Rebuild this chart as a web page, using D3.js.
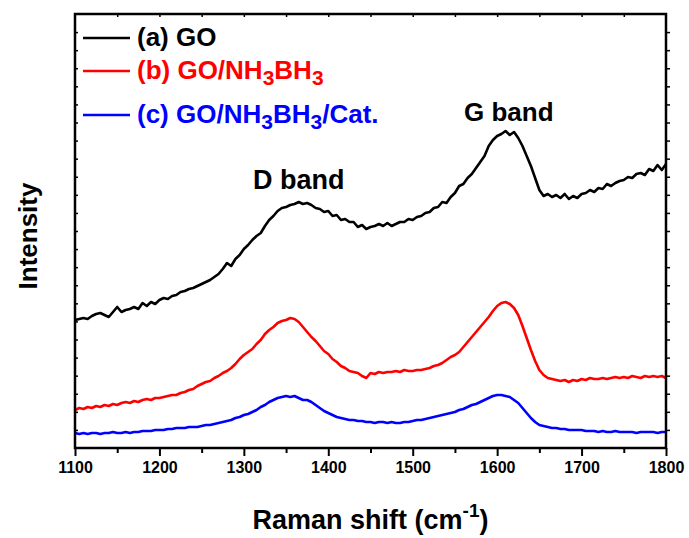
<!DOCTYPE html>
<html>
<head>
<meta charset="utf-8">
<script src="https://cdn.jsdelivr.net/npm/d3@7"></script>
<style>
  body { margin: 0; background: #fff; }
  text { font-family: "Liberation Sans", Arial, sans-serif; font-weight: bold; }
</style>
</head>
<body>
<div id="container"></div>
<script>
// spectres Raman, lus à la main sur la figure (pas de 5 cm-1)
const shift_min = 1100;
const shift_max = 1800;
const shift_step = 5;

const go = [
    128, 129, 130, 129, 132, 134, 135, 133, 131, 136, 141, 136, 138, 139, 141, 139, 145, 142, 146, 144,
    148, 150, 149, 152, 153, 156, 157, 159, 160, 162, 164, 166, 168, 171, 174, 179, 185, 182, 189, 193,
    199, 203, 208, 212, 215, 222, 228, 232, 237, 240, 241, 243, 244, 246, 244, 245, 243, 240, 239, 236,
    237, 232, 233, 228, 229, 226, 226, 221, 223, 219, 221, 222, 224, 222, 225, 222, 224, 226, 226, 229,
    228, 231, 232, 235, 236, 240, 241, 246, 245, 251, 255, 262, 264, 270, 274, 280, 286, 292, 302, 308,
    312, 314, 317, 313, 316, 310, 302, 292, 282, 270, 258, 252, 254, 251, 253, 250, 254, 249, 252, 250,
    254, 255, 258, 256, 260, 259, 264, 262, 265, 267, 268, 271, 270, 274, 275, 273, 279, 277, 283, 278,
    284
];

const go_nh3bh3 = [
    38, 40, 39, 41, 40, 42, 41, 43, 42, 44, 43, 45, 46, 45, 47, 46, 48, 49, 48, 50,
    50, 51, 52, 53, 53, 55, 56, 58, 59, 62, 64, 66, 67, 70, 72, 75, 77, 80, 84, 89,
    93, 96, 99, 104, 108, 114, 118, 121, 125, 127, 128, 130, 129, 126, 121, 116, 111, 107, 102, 97,
    94, 89, 86, 82, 80, 77, 76, 75, 72, 70, 75, 74, 76, 75, 76, 76, 77, 76, 78, 77,
    77, 78, 78, 79, 80, 82, 83, 85, 88, 91, 93, 96, 101, 106, 111, 116, 121, 126, 131, 137,
    142, 145, 146, 144, 140, 133, 122, 110, 98, 87, 78, 73, 70, 69, 68, 67, 68, 66, 68, 67,
    69, 68, 70, 69, 69, 70, 69, 70, 71, 70, 71, 70, 72, 71, 70, 72, 71, 72, 71, 72,
    70
];

const go_nh3bh3_cat = [
    15, 14, 15, 14, 15, 15, 14, 15, 15, 16, 15, 15, 16, 15, 16, 16, 17, 17, 17, 18,
    18, 18, 19, 19, 20, 20, 20, 21, 21, 21, 22, 23, 23, 24, 25, 26, 27, 28, 30, 31,
    33, 34, 36, 38, 41, 43, 46, 48, 50, 51, 52, 51, 52, 50, 48, 48, 46, 43, 40, 37,
    35, 33, 31, 30, 29, 28, 28, 27, 27, 26, 26, 25, 26, 26, 25, 26, 25, 25, 26, 26,
    27, 28, 28, 29, 30, 31, 32, 33, 34, 35, 36, 38, 39, 41, 43, 44, 46, 48, 50, 52,
    53, 53, 52, 51, 48, 45, 40, 35, 30, 26, 23, 22, 21, 20, 20, 19, 19, 18, 18, 18,
    18, 17, 17, 17, 16, 17, 16, 16, 17, 16, 16, 16, 16, 15, 16, 16, 16, 16, 15, 16,
    16
];

const series_names = ["(a) GO", "(b) GO/NH3BH3", "(c) GO/NH3BH3/Cat."];
const series_colors = ["#000000", "#ff0000", "#0000ff"];
const series_values = [go, go_nh3bh3, go_nh3bh3_cat];

const x_ticks = [1100, 1200, 1300, 1400, 1500, 1600, 1700, 1800];
const y_max = 434;
const y_divisions = 24;

const width = 689;
const height = 538;
const m = { left: 75, right: 666, top: 14, bottom: 448 };

const shifts = d3.range(shift_min, shift_max + 1, shift_step);

const x = d3.scaleLinear().domain([shift_min, shift_max]).range([m.left, m.right]);
const y = d3.scaleLinear().domain([0, y_max]).range([m.bottom, m.top]);

const svg = d3.create("svg")
    .attr("width", width)
    .attr("height", height)
    .attr("viewBox", [0, 0, width, height]);

// les courbes
const line = d3.line()
    .x((d, i) => x(shifts[i]))
    .y(d => y(d));

svg.append("g")
    .selectAll("path")
    .data(series_values)
    .join("path")
    .attr("fill", "none")
    .attr("stroke", (d, i) => series_colors[i])
    .attr("stroke-width", 2.6)
    .attr("stroke-linejoin", "round")
    .attr("d", line);

// axe du bas : graduations majeures + mineures vers l'extérieur
const xAxis = d3.axisBottom(x)
    .tickValues(x_ticks)
    .tickSize(8)
    .tickPadding(6)
    .tickFormat(d3.format("d"));

const gx = svg.append("g")
    .attr("transform", `translate(0,${m.bottom})`)
    .call(xAxis);
gx.select(".domain").remove();
gx.selectAll(".tick line").attr("stroke", "#000").attr("stroke-width", 2);
gx.selectAll(".tick text")
    .attr("font-size", 16)
    .attr("fill", "#000");

svg.append("g")
    .attr("transform", `translate(0,${m.bottom})`)
    .call(d3.axisBottom(x).tickValues(d3.range(1150, 1800, 100)).tickSize(5).tickFormat(""))
    .call(g => g.select(".domain").remove())
    .call(g => g.selectAll(".tick line").attr("stroke", "#000").attr("stroke-width", 2));

// axe du haut : graduations vers l'intérieur
svg.append("g")
    .attr("transform", `translate(0,${m.top})`)
    .call(d3.axisBottom(x).tickValues(d3.range(1150, 1800, 50)).tickSize(3).tickFormat(""))
    .call(g => g.select(".domain").remove())
    .call(g => g.selectAll(".tick line").attr("stroke", "#000").attr("stroke-width", 1.5));

// axes gauche et droite, sans étiquettes
const y_ticks = d3.range(1, y_divisions).map(k => k * y_max / y_divisions);

svg.append("g")
    .attr("transform", `translate(${m.left},0)`)
    .call(d3.axisRight(y).tickValues(y_ticks).tickSize(3).tickFormat(""))
    .call(g => g.select(".domain").remove())
    .call(g => g.selectAll(".tick line").attr("stroke", "#000").attr("stroke-width", 1.5));

svg.append("g")
    .attr("transform", `translate(${m.right},0)`)
    .call(d3.axisRight(y).tickValues(y_ticks).tickSize(4).tickFormat(""))
    .call(g => g.select(".domain").remove())
    .call(g => g.selectAll(".tick line").attr("stroke", "#000").attr("stroke-width", 1.5));

// le cadre
svg.append("rect")
    .attr("x", m.left)
    .attr("y", m.top)
    .attr("width", m.right - m.left)
    .attr("height", m.bottom - m.top)
    .attr("fill", "none")
    .attr("stroke", "#000")
    .attr("stroke-width", 2.5);

// titres des axes
const xlabel = svg.append("text")
    .attr("x", (m.left + m.right) / 2)
    .attr("y", 529)
    .attr("text-anchor", "middle")
    .attr("font-size", 27);
xlabel.append("tspan").text("Raman shift (cm");
xlabel.append("tspan").attr("font-size", 19).attr("dy", -12).text("-1");
xlabel.append("tspan").attr("dy", 12).text(")");

svg.append("text")
    .attr("transform", `translate(37,${(m.top + m.bottom) / 2 + 5}) rotate(-90)`)
    .attr("text-anchor", "middle")
    .attr("font-size", 26)
    .text("Intensity");

// bandes D et G
svg.append("text").attr("x", 253).attr("y", 189).attr("font-size", 27).text("D band");
svg.append("text").attr("x", 464).attr("y", 121).attr("font-size", 26).text("G band");

// légende, avec les indices de NH3BH3
const legend_y = [38, 71, 115];
const legend = svg.append("g");
series_names.forEach((name, i) => {
    legend.append("line")
        .attr("x1", 83).attr("x2", 130)
        .attr("y1", legend_y[i]).attr("y2", legend_y[i])
        .attr("stroke", series_colors[i])
        .attr("stroke-width", 2.6);
    const t = legend.append("text")
        .attr("x", 137)
        .attr("y", legend_y[i] + 8)
        .attr("font-size", 26)
        .attr("fill", series_colors[i]);
    const parts = name.split(/(\d)/);
    let sub = false;
    parts.forEach(p => {
        if (p === "") return;
        if (/^\d$/.test(p)) {
            t.append("tspan").attr("font-size", 21).attr("dy", 6).text(p);
            sub = true;
        } else {
            t.append("tspan").attr("dy", sub ? -6 : 0).text(p);
            sub = false;
        }
    });
});

d3.select("#container").node().append(svg.node());
</script>
</body>
</html>
